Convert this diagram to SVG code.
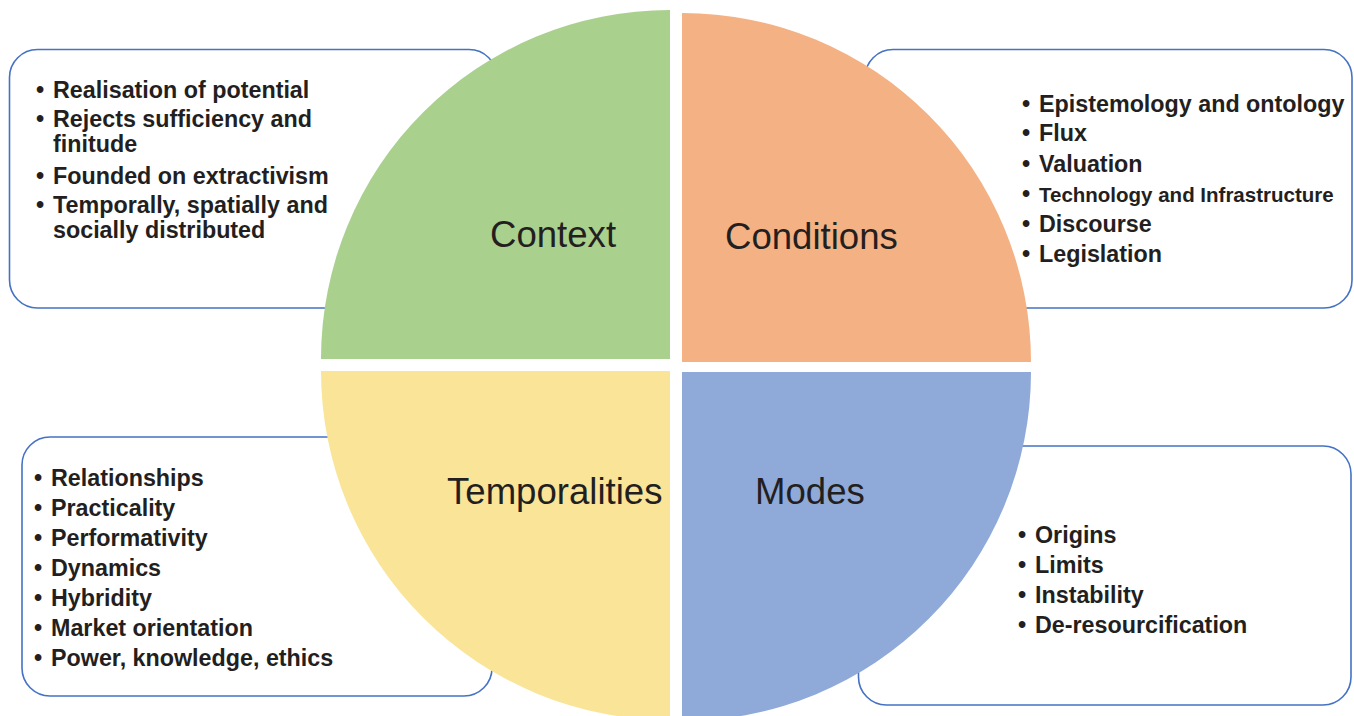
<svg xmlns="http://www.w3.org/2000/svg" width="1354" height="716" viewBox="0 0 1354 716">
<style>
.box{fill:#ffffff;stroke:#4472C4;stroke-width:1.6}
.lbl{font-family:"Liberation Sans",Arial,Helvetica,sans-serif;font-size:36.6px;fill:#231F20}
.it{font-family:"Liberation Sans",Arial,Helvetica,sans-serif;font-size:23.3px;font-weight:bold;fill:#231F20}
</style>
<rect width="1354" height="716" fill="#ffffff"/>
<g id="context-box"><rect class="box" x="9.5" y="49.5" width="487.5" height="258.5" rx="28"/></g>
<g id="conditions-box"><rect class="box" x="865" y="49.5" width="487" height="258.5" rx="28"/></g>
<g id="temporalities-box"><rect class="box" x="22" y="437" width="470" height="259" rx="28"/></g>
<g id="modes-box"><rect class="box" x="858.5" y="446" width="492.5" height="259" rx="28"/></g>
<g id="context"><path d="M670,359 L321,359 A349,349 0 0 1 670,10 Z" fill="#AAD08E"/><text class="lbl" x="490" y="247">Context</text></g>
<g id="conditions"><path d="M682,362 L682,13 A349,349 0 0 1 1031,362 Z" fill="#F4B183"/><text class="lbl" x="725" y="249">Conditions</text></g>
<g id="temporalities"><path d="M670,371 L670,720 A349,349 0 0 1 321,371 Z" fill="#FAE498"/><text class="lbl" x="447" y="504">Temporalities</text></g>
<g id="modes"><path d="M682,372 L1031,372 A349,349 0 0 1 682,721 Z" fill="#8FAAD8"/><text class="lbl" x="755" y="504">Modes</text></g>
<g id="context-items">
<text class="it" x="36" y="98">•</text><text class="it" x="53" y="98">Realisation of potential</text>
<text class="it" x="36" y="127">•</text><text class="it" x="53" y="127">Rejects sufficiency and</text>
<text class="it" x="53" y="152">finitude</text>
<text class="it" x="36" y="184">•</text><text class="it" x="53" y="184">Founded on extractivism</text>
<text class="it" x="36" y="213">•</text><text class="it" x="53" y="213">Temporally, spatially and</text>
<text class="it" x="53" y="238">socially distributed</text>
</g>
<g id="conditions-items">
<text class="it" x="1022" y="112">•</text><text class="it" x="1039" y="112">Epistemology and ontology</text>
<text class="it" x="1022" y="141">•</text><text class="it" x="1039" y="141">Flux</text>
<text class="it" x="1022" y="172">•</text><text class="it" x="1039" y="172">Valuation</text>
<text class="it" x="1022" y="202">•</text><text class="it" x="1039" y="202" style="font-size:20.5px">Technology and Infrastructure</text>
<text class="it" x="1022" y="232">•</text><text class="it" x="1039" y="232">Discourse</text>
<text class="it" x="1022" y="262">•</text><text class="it" x="1039" y="262">Legislation</text>
</g>
<g id="temporalities-items">
<text class="it" x="34" y="486">•</text><text class="it" x="51" y="486">Relationships</text>
<text class="it" x="34" y="516">•</text><text class="it" x="51" y="516">Practicality</text>
<text class="it" x="34" y="546">•</text><text class="it" x="51" y="546">Performativity</text>
<text class="it" x="34" y="576">•</text><text class="it" x="51" y="576">Dynamics</text>
<text class="it" x="34" y="606">•</text><text class="it" x="51" y="606">Hybridity</text>
<text class="it" x="34" y="636">•</text><text class="it" x="51" y="636">Market orientation</text>
<text class="it" x="34" y="666">•</text><text class="it" x="51" y="666">Power, knowledge, ethics</text>
</g>
<g id="modes-items">
<text class="it" x="1018" y="543">•</text><text class="it" x="1035" y="543">Origins</text>
<text class="it" x="1018" y="573">•</text><text class="it" x="1035" y="573">Limits</text>
<text class="it" x="1018" y="603">•</text><text class="it" x="1035" y="603">Instability</text>
<text class="it" x="1018" y="633">•</text><text class="it" x="1035" y="633">De-resourcification</text>
</g>
<g id="connectors"></g>
</svg>
